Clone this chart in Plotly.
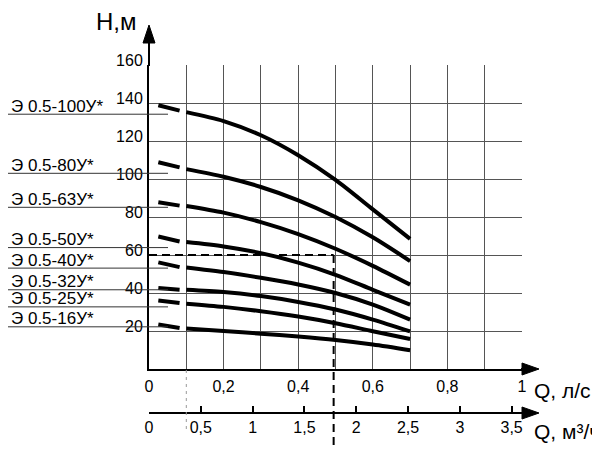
import plotly.graph_objects as go

# flow Q, l/s
q_dash = [0.025, 0.082]
q_solid = [0.1, 0.2, 0.3, 0.4, 0.5, 0.6, 0.7]

models = ["Э 0.5-100У*", "Э 0.5-80У*", "Э 0.5-63У*", "Э 0.5-50У*",
          "Э 0.5-40У*", "Э 0.5-32У*", "Э 0.5-25У*", "Э 0.5-16У*"]

# head H, m - short dashed start of every curve
h_dash = [
    [138.8, 136.0],
    [108.8, 106.1],
    [87.8, 86.0],
    [69.7, 67.1],
    [56.1, 53.6],
    [42.6, 41.7],
    [36.1, 34.7],
    [23.4, 21.6],
]
# head H, m - solid part, at q_solid
h_solid = [
    [135.2, 130.5, 123.0, 112.5, 99.5, 84.0, 68.5],
    [105.2, 101.2, 95.8, 88.8, 80.0, 69.3, 56.8],
    [85.8, 82.3, 77.3, 71.0, 63.3, 54.3, 44.4],
    [66.8, 64.5, 61.0, 56.0, 49.6, 41.7, 33.9],
    [53.4, 51.0, 48.0, 44.5, 40.0, 33.9, 26.0],
    [41.7, 40.5, 38.4, 35.3, 31.3, 26.0, 19.8],
    [34.4, 32.7, 30.4, 27.6, 24.1, 19.9, 15.8],
    [21.3, 20.0, 18.6, 17.1, 15.3, 12.9, 9.9],
]
# head where each model name is underlined, m
label_h = [134.1, 103.0, 85.1, 63.9, 53.1, 41.7, 32.7, 22.2]

q_ticks = [0, 0.1, 0.2, 0.3, 0.4, 0.5, 0.6, 0.7, 0.8, 0.9, 1.0]
q_ticktext = ["0", "", "0,2", "", "0,4", "", "0,6", "", "0,8", "", "1"]
m3h_ticks = [0, 0.5, 1, 1.5, 2, 2.5, 3, 3.5]
m3h_ticktext = ["0", "0,5", "1", "1,5", "2", "2,5", "3", "3,5"]
h_ticks = [20, 40, 60, 80, 100, 120, 140, 160]

# operating point
duty_q = 0.495
duty_h = 60

FONT = "Liberation Sans, Arial, sans-serif"
W, HGT = 600, 450
OFF = 8  # the page body margin
PL, PR, PT, PY0 = 149, 522, 65, 369  # plot box in screen pixels
PB = 430  # screen row of the paper bottom
L = PL - OFF
T = PT - OFF
R = W - L - (PR - PL)
B = HGT - (PB - OFF)
ydom0 = (PB - PY0) / (PB - PT)


def px(p):
    return (p - PL) / (PR - PL)


def py(p):
    return (PB - p) / (PB - PT)


def hy(h):
    return ydom0 + h / 160 * (1 - ydom0)


fig = go.Figure()

for i in range(len(models)):
    fig.add_trace(go.Scatter(x=q_dash, y=h_dash[i], mode="lines",
                             line=dict(color="black", width=4), showlegend=False,
                             hoverinfo="skip"))
    fig.add_trace(go.Scatter(x=q_solid, y=h_solid[i], mode="lines", name=models[i],
                             line=dict(color="black", width=4, shape="spline", smoothing=0.8),
                             showlegend=False))

# second flow scale lives on x2
fig.add_trace(go.Scatter(x=[0], y=[None], xaxis="x2", yaxis="y", showlegend=False))

shapes = []
# arrows on the axes
shapes.append(dict(type="line", xref="paper", yref="paper", x0=px(149), x1=px(149),
                   y0=py(66), y1=py(40), line=dict(color="black", width=2)))
shapes.append(dict(type="path", xref="paper", yref="paper", fillcolor="black",
                   line=dict(color="black", width=1),
                   path=f"M {px(149)} {py(25)} L {px(143)} {py(43)} L {px(155)} {py(43)} Z"))
for ypx in (369, 413):
    shapes.append(dict(type="line", xref="paper", yref="paper", x0=px(521), x1=px(526),
                       y0=py(ypx), y1=py(ypx), line=dict(color="black", width=2)))
    shapes.append(dict(type="path", xref="paper", yref="paper", fillcolor="black",
                       line=dict(color="black", width=1),
                       path=f"M {px(539)} {py(ypx)} L {px(522)} {py(ypx - 6)} L {px(522)} {py(ypx + 6)} Z"))

# underline under each model name
for h in label_h:
    shapes.append(dict(type="line", xref="paper", yref="y", x0=px(0), x1=px(168),
                       y0=h, y1=h, line=dict(color="#333333", width=1)))

# dashed guide lines for the operating point
shapes.append(dict(type="line", xref="x", yref="y", x0=0, x1=duty_q, y0=duty_h, y1=duty_h,
                   line=dict(color="black", width=2, dash="8px,5px")))
shapes.append(dict(type="line", xref="x", yref="paper", x0=duty_q, x1=duty_q,
                   y0=hy(duty_h), y1=py(446), line=dict(color="black", width=2, dash="8px,5px")))
shapes.append(dict(type="line", xref="x", yref="paper", x0=0.1, x1=0.1,
                   y0=py(370), y1=py(430), line=dict(color="#999999", width=1, dash="3px,4px")))

annotations = []
for name, h in zip(models, label_h):
    annotations.append(dict(text=name, xref="paper", yref="y", x=px(9), y=h, yshift=8,
                            xanchor="left", yanchor="middle", showarrow=False,
                            font=dict(size=17, color="black", family=FONT)))
annotations.append(dict(text="H,м", xref="paper", yref="paper", x=px(139), y=py(22),
                        xanchor="right", yanchor="middle", showarrow=False,
                        font=dict(size=24, color="black", family=FONT)))
annotations.append(dict(text="Q, л/с", xref="paper", yref="paper", x=px(532), y=py(390),
                        xanchor="left", yanchor="middle", showarrow=False,
                        font=dict(size=21, color="black", family=FONT)))
annotations.append(dict(text="Q, м³/ч", xref="paper", yref="paper", x=px(532), y=py(431),
                        xanchor="left", yanchor="middle", showarrow=False,
                        font=dict(size=21, color="black", family=FONT)))

grid = "#555555"
fig.update_layout(
    width=W, height=HGT,
    margin=dict(l=L, r=R, t=T, b=B),
    paper_bgcolor="white", plot_bgcolor="white",
    font=dict(family=FONT, color="black", size=16),
    xaxis=dict(range=[0, 1], tickvals=q_ticks, ticktext=q_ticktext, showgrid=True,
               gridcolor=grid, gridwidth=1, zeroline=False, showline=True,
               linecolor="black", linewidth=2, ticks="", ticklabelstandoff=2,
               tickfont=dict(size=16)),
    xaxis2=dict(range=[0, 3.6], overlaying="x", anchor="free", position=py(413), side="bottom",
                tickvals=m3h_ticks, ticktext=m3h_ticktext, showgrid=False, zeroline=False,
                showline=True, linecolor="black", linewidth=2, ticks="inside", ticklen=6,
                tickwidth=1.5, tickcolor="black", tickfont=dict(size=16)),
    yaxis=dict(range=[0, 160], domain=[ydom0, 1], tickvals=h_ticks, showgrid=True,
               gridcolor=grid, gridwidth=1, zeroline=False, showline=True,
               linecolor="black", linewidth=2, ticks="", ticklabelshift=-5,
               ticklabelstandoff=1, tickfont=dict(size=16)),
    shapes=shapes,
    annotations=annotations,
)

fig.write_html("out.html")
